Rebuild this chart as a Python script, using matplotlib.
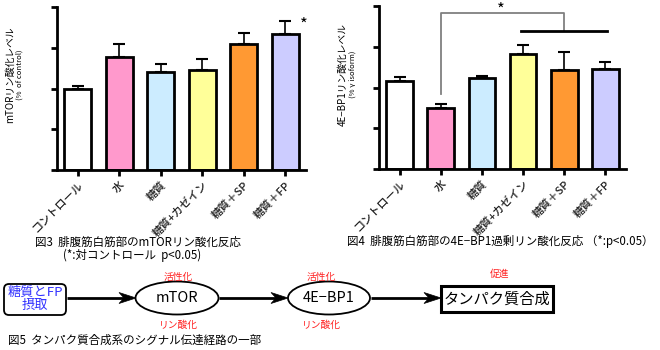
import matplotlib
matplotlib.use("Agg")
import matplotlib.pyplot as plt
from matplotlib.patches import Ellipse, FancyBboxPatch, Rectangle, Polygon

plt.rcParams['font.family'] = ['Noto Sans CJK JP', 'DejaVu Sans']

# データ
groups = ['コントロール', '水', '糖質', '糖質+カゼイン', '糖質＋SP', '糖質＋FP']
colors = ['#FFFFFF', '#FF99CC', '#CCECFF', '#FFFF99', '#FF9933', '#CCCCFF']
mtor_mean = [2.00, 2.78, 2.40, 2.45, 3.10, 3.33]
mtor_err = [0.05, 0.32, 0.19, 0.27, 0.25, 0.33]
bp1_mean = [2.16, 1.49, 2.24, 2.81, 2.44, 2.45]
bp1_err = [0.10, 0.11, 0.04, 0.24, 0.43, 0.18]

W, H = 660, 350
fig = plt.figure(figsize=(6.6, 3.5), dpi=100)


def px_axes(x0, y0, x1, y1):
    # 画像のピクセル座標(左上原点)から軸を作る
    return fig.add_axes([x0 / W, 1 - y1 / H, (x1 - x0) / W, (y1 - y0) / H])


def bar_panel(ax, means, errs):
    x = range(len(means))
    ax.errorbar(x, means, yerr=[[0] * len(errs), errs], fmt='none',
                ecolor='black', elinewidth=1.2, capsize=4.5, capthick=1.5, zorder=1)
    ax.bar(x, means, width=0.65, color=colors, edgecolor='black', linewidth=2.0, zorder=2)
    ax.set_xlim(-0.5, 5.5)
    ax.set_ylim(0, 4)
    ax.set_yticks([0, 1, 2, 3, 4])
    ax.set_yticklabels([])
    ax.set_xticks(list(x))
    ax.set_xticklabels(groups, rotation=45, ha='right', rotation_mode='anchor',
                       fontsize=8, color='#222222', fontweight='medium')
    ax.tick_params(axis='both', direction='out', length=4, width=2)
    ax.tick_params(axis='x', pad=3)
    for s in ['top', 'right']:
        ax.spines[s].set_visible(False)
    for s in ['left', 'bottom']:
        ax.spines[s].set_linewidth(2.0)


# 図3
ax1 = px_axes(57, 7, 306, 170)
bar_panel(ax1, mtor_mean, mtor_err)
ax1.text(5.45, 3.55, '*', fontsize=12, ha='center', va='center')

# 図4
ax2 = px_axes(379, 6, 626, 169)
bar_panel(ax2, bp1_mean, bp1_err)
g = '#808080'
ax2.plot([1, 1, 4, 4], [1.84, 3.84, 3.84, 3.39], color=g, lw=1.3, clip_on=False)
ax2.plot([2.94, 5.05], [3.39, 3.39], color='black', lw=2.0, clip_on=False)
ax2.text(2.46, 3.9, '*', fontsize=12, ha='center', va='center', clip_on=False)

# 縦軸ラベル
fig.text(10 / W, 1 - 75 / H, 'mTORリン酸化レベル', rotation=90, fontsize=7,
         ha='center', va='center')
fig.text(20 / W, 1 - 75 / H, '(%  of control)', rotation=90, fontsize=5.5,
         ha='center', va='center')
fig.text(343 / W, 1 - 74 / H, '4E−BP1リン酸化レベル', rotation=90, fontsize=7,
         ha='center', va='center')
fig.text(353 / W, 1 - 74 / H, '(% γ isoform)', rotation=90, fontsize=5.5,
         ha='center', va='center')

# 下部: キャプションと経路図
ov = fig.add_axes([0, 0, 1, 1], zorder=-1)
ov.set_xlim(0, W)
ov.set_ylim(H, 0)
ov.axis('off')

ov.text(35, 242, '図3  腓腹筋白筋部のmTORリン酸化反応', fontsize=8.3, va='center')
ov.text(63, 255, '(*:対コントロール  p<0.05)', fontsize=8.3, va='center')
ov.text(347, 242, '図4  腓腹筋白筋部の4E−BP1過剰リン酸化反応 （*:p<0.05）', fontsize=8.3,
        va='center')
ov.text(8, 340, '図5  タンパク質合成系のシグナル伝達経路の一部', fontsize=8.3, va='center')

cy = 298
ov.add_patch(FancyBboxPatch((4, 284), 62, 31, boxstyle='round,pad=0,rounding_size=5',
                            facecolor='white', edgecolor='black', lw=1.3))
ov.text(35, 299, '糖質とFP\n摂取', fontsize=9.5, color='#3333FF', ha='center', va='center',
        linespacing=1.0)

ov.add_patch(Ellipse((177, cy), 83, 33, facecolor='white', edgecolor='black', lw=1.3))
ov.text(177, cy, 'mTOR', fontsize=10.5, ha='center', va='center')
ov.add_patch(Ellipse((329, cy), 82, 33, facecolor='white', edgecolor='black', lw=1.3))
ov.text(329, cy, '4E−BP1', fontsize=10.5, ha='center', va='center')
ov.add_patch(Rectangle((441, 286), 112, 26, facecolor='white', edgecolor='black', lw=2.2))
ov.text(497, 299, 'タンパク質合成', fontsize=11, ha='center', va='center')

# 矢印(ステルス型の矢じり)
for x0, x1 in [(67, 136), (219, 288), (371, 441)]:
    ov.plot([x0, x1 - 8], [cy, cy], color='black', lw=2.0, solid_capstyle='butt')
    ov.add_patch(Polygon([(x1, cy), (x1 - 17, cy - 5.5), (x1 - 12, cy), (x1 - 17, cy + 5.5)],
                         closed=True, facecolor='black', edgecolor='black', lw=0.5))

red = '#FF2020'
ov.text(178, 277, '活性化', fontsize=7, color=red, ha='center', va='center')
ov.text(178, 325, 'リン酸化', fontsize=7, color=red, ha='center', va='center')
ov.text(321, 277, '活性化', fontsize=7, color=red, ha='center', va='center')
ov.text(321, 325, 'リン酸化', fontsize=7, color=red, ha='center', va='center')
ov.text(500, 274, '促進', fontsize=7, color=red, ha='center', va='center')

fig.savefig('out.png', dpi=100)
